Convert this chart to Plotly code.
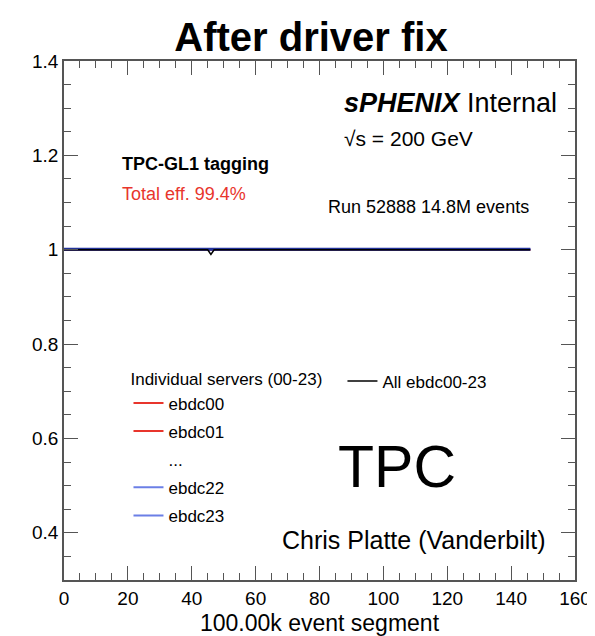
import plotly.graph_objects as go

# ---- data ----
segments_all = [0, 45, 46, 47, 146]
eff_all = [1.0, 1.0, 0.99, 1.0, 1.0]
segments_srv = [0, 146]
eff_ebdc00 = [1.0, 1.0]
eff_ebdc01 = [1.0, 1.0]
eff_ebdc22 = [1.001, 1.001]
eff_ebdc23 = [1.001, 1.001]

x_range = [0, 160]
y_range = [0.3, 1.4]
y_tickvals = [0.4, 0.6, 0.8, 1.0, 1.2, 1.4]
y_ticktext = ["0.4", "0.6", "0.8", "1", "1.2", "1.4"]
x_tickvals = [0, 20, 40, 60, 80, 100, 120, 140, 160]

FONT = "Liberation Sans, Arial, Helvetica, sans-serif"
RED = "#e8352c"
BLUE = "#6b7fe6"

W, H = 595, 636
L, R, T, B = 56, 16, 53, 56
pw, ph = W - L - R, H - T - B


def px(xp):
    return (xp - L) / pw


def py(yp):
    return (H - B - yp) / ph


fig = go.Figure()

srv = [("ebdc00", eff_ebdc00, RED, "g0"),
       ("ebdc01", eff_ebdc01, RED, "g1")]
for name, vals, col, grp in srv:
    fig.add_trace(go.Scatter(x=segments_srv, y=vals, mode="lines", name=name,
                             line=dict(color=col, width=2), legend="legend",
                             legendgroup=grp))
fig.add_trace(go.Scatter(x=[None], y=[None], mode="lines", name="...",
                         line=dict(color="rgba(0,0,0,0)", width=0),
                         legend="legend", legendgroup="g2", hoverinfo="skip"))
srv2 = [("ebdc22", eff_ebdc22, BLUE, "g3"),
        ("ebdc23", eff_ebdc23, BLUE, "g4")]
for name, vals, col, grp in srv2:
    fig.add_trace(go.Scatter(x=segments_srv, y=vals, mode="lines", name=name,
                             line=dict(color=col, width=2), legend="legend",
                             legendgroup=grp))
# thick dark-blue band visible in the reference
fig.add_trace(go.Scatter(x=segments_srv, y=eff_ebdc23, mode="lines",
                         showlegend=False, line=dict(color="#23339a", width=3)))
fig.add_trace(go.Scatter(x=segments_all, y=eff_all, mode="lines",
                         name="All ebdc00-23", legend="legend2",
                         line=dict(color="black", width=1.5)))

ann = []
ann.append(dict(text="<b><i>sPHENIX</i></b> Internal", x=px(341), y=py(96),
                xanchor="left", yanchor="middle", font=dict(size=27, color="black")))
ann.append(dict(text="√s = 200 GeV", x=px(341), y=py(132),
                xanchor="left", yanchor="middle", font=dict(size=21, color="black")))
ann.append(dict(text="Run 52888 14.8M events", x=px(324), y=py(201),
                xanchor="left", yanchor="middle", font=dict(size=18, color="black")))
ann.append(dict(text="<b>TPC-GL1 tagging</b>", x=px(113), y=py(158),
                xanchor="left", yanchor="middle", font=dict(size=18, color="black")))
ann.append(dict(text="Total eff. 99.4%", x=px(113), y=py(188),
                xanchor="left", yanchor="middle", font=dict(size=18, color=RED)))
ann.append(dict(text="TPC", x=px(397), y=py(465),
                xanchor="center", yanchor="middle", font=dict(size=59, color="black")))
ann.append(dict(text="Chris Platte (Vanderbilt)", x=px(414), y=py(539),
                xanchor="center", yanchor="middle", font=dict(size=25, color="black")))
for a in ann:
    a.update(xref="paper", yref="paper", showarrow=False)

fig.update_layout(
    width=W, height=H,
    margin=dict(l=L, r=R, t=T, b=B),
    paper_bgcolor="white", plot_bgcolor="white",
    font=dict(family=FONT, color="black"),
    title=dict(text="<b>After driver fix</b>", x=303 / W, xanchor="center",
               y=1 - 29 / H, yanchor="middle", font=dict(size=40, color="black")),
    annotations=ann,
    showlegend=True,
    legend=dict(x=px(122), y=py(360), xanchor="left", yanchor="top",
                bgcolor="rgba(0,0,0,0)", font=dict(size=17),
                title=dict(text="Individual servers (00-23)", font=dict(size=17)),
                tracegroupgap=3, itemwidth=30),
    legend2=dict(x=px(341), y=py(360), xanchor="left", yanchor="top",
                 bgcolor="rgba(0,0,0,0)", font=dict(size=17), itemwidth=30),
    xaxis=dict(range=x_range, tickvals=x_tickvals, ticks="inside", ticklen=14,
               tickcolor="#555", showline=True, linecolor="#555", linewidth=1.5,
               mirror="ticks", showgrid=False, zeroline=False,
               tickfont=dict(size=19),
               minor=dict(dtick=5, ticks="inside", ticklen=7, tickcolor="#555", showgrid=False),
               title=dict(text="100.00k event segment", font=dict(size=23), standoff=7)),
    yaxis=dict(range=y_range, tickvals=y_tickvals, ticktext=y_ticktext,
               ticks="inside", ticklen=14, tickcolor="#555",
               showline=True, linecolor="#555", linewidth=1.5, mirror="ticks",
               showgrid=False, zeroline=False, tickfont=dict(size=19),
               minor=dict(tickvals=[0.3 + 0.05 * i for i in range(23)], ticks="inside",
                          ticklen=7, tickcolor="#555", showgrid=False)),
)

fig.write_html("out.html")
